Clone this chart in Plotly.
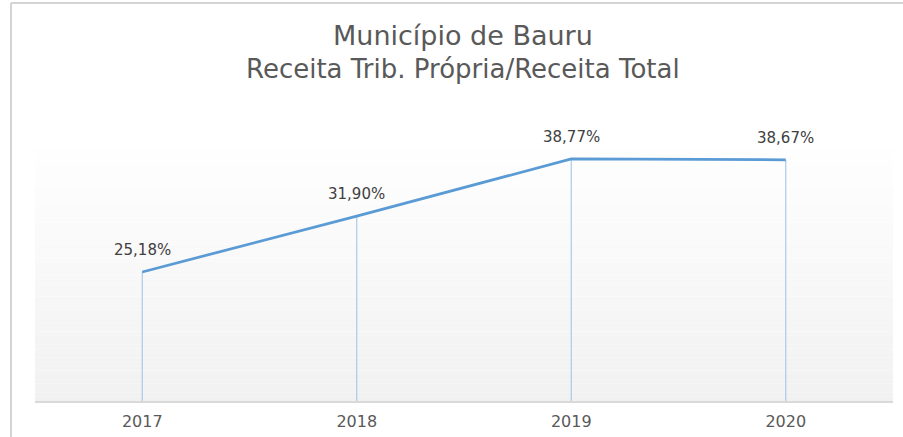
import plotly.graph_objects as go

years = ["2017", "2018", "2019", "2020"]
values = [25.18, 31.90, 38.77, 38.67]
labels = ["25,18%", "31,90%", "38,77%", "38,67%"]
title_main = "Município de Bauru"
title_sub = "Receita Trib. Própria/Receita Total"

W, H = 903, 437
sL, sR, sT, sB = 35, 893, 140, 401          # plot area in screen px
L, T = sL, sT
R = W - sR
B = H - sB
pw = sR - sL
ph = sB - sT
ymin, ymax = 9.66, 41.05
FONT = "DejaVu Sans"

fig = go.Figure()

fig.add_trace(go.Scatter(
    x=years, y=values, mode="lines",
    line=dict(color="#5b9bd5", width=2.75),
    error_y=dict(type="data", symmetric=False,
                 array=[0] * len(values),
                 arrayminus=[v - ymin for v in values],
                 color="#a9c9e8", thickness=1.2, width=0),
    hoverinfo="skip", showlegend=False,
))

def px(x):
    return (x - sL) / pw
def py(y):
    return 1 - (y - sT) / ph

shapes = []
n = 60
for i in range(n):
    c = int(round(255 - (255 - 241) * (1 - (i + 0.5) / n)))
    shapes.append(dict(type="rect", xref="x domain", yref="y domain",
                       x0=0, x1=1, y0=i / n, y1=(i + 1) / n,
                       fillcolor=f"rgb({c},{c},{c})", line=dict(width=0),
                       layer="below"))
shapes.append(dict(type="line", xref="paper", yref="paper",
                   x0=px(11), x1=px(11), y0=py(3), y1=py(450),
                   line=dict(color="#d4d4d4", width=2)))
shapes.append(dict(type="line", xref="paper", yref="paper",
                   x0=px(11), x1=px(915), y0=py(3), y1=py(3),
                   line=dict(color="#d4d4d4", width=2)))

annotations = []
for i, (v, lab) in enumerate(zip(values, labels)):
    annotations.append(dict(x=i, y=v, xref="x", yref="y", text=lab,
                            showarrow=False, yshift=22,
                            xanchor="center", yanchor="middle",
                            font=dict(size=15, color="#404040", family=FONT)))
annotations.append(dict(x=px(463), xref="paper", y=py(36), yref="paper",
                        xanchor="center", yanchor="middle",
                        text=title_main, showarrow=False,
                        font=dict(size=27, color="#595959", family=FONT)))
annotations.append(dict(x=px(463), xref="paper", y=py(69), yref="paper",
                        xanchor="center", yanchor="middle",
                        text=title_sub, showarrow=False,
                        font=dict(size=26, color="#595959", family=FONT)))

fig.update_layout(
    width=W, height=H,
    margin=dict(l=L, r=R, t=T, b=B, pad=0, autoexpand=False),
    paper_bgcolor="white", plot_bgcolor="white",
    shapes=shapes, annotations=annotations,
    xaxis=dict(type="category", range=[-0.5, 3.5], showgrid=False,
               automargin=False,
               zeroline=False, showline=True, linecolor="#d9d9d9", linewidth=1.5,
               ticks="", tickfont=dict(size=16, color="#595959", family=FONT),
               ticklabelstandoff=5),
    yaxis=dict(range=[ymin, ymax], visible=False, showgrid=False, zeroline=False,
               automargin=False),
)

fig.write_html("out.html",
               config={"displayModeBar": False},
               post_script="document.body.style.margin='0';document.body.style.overflow='hidden';")
